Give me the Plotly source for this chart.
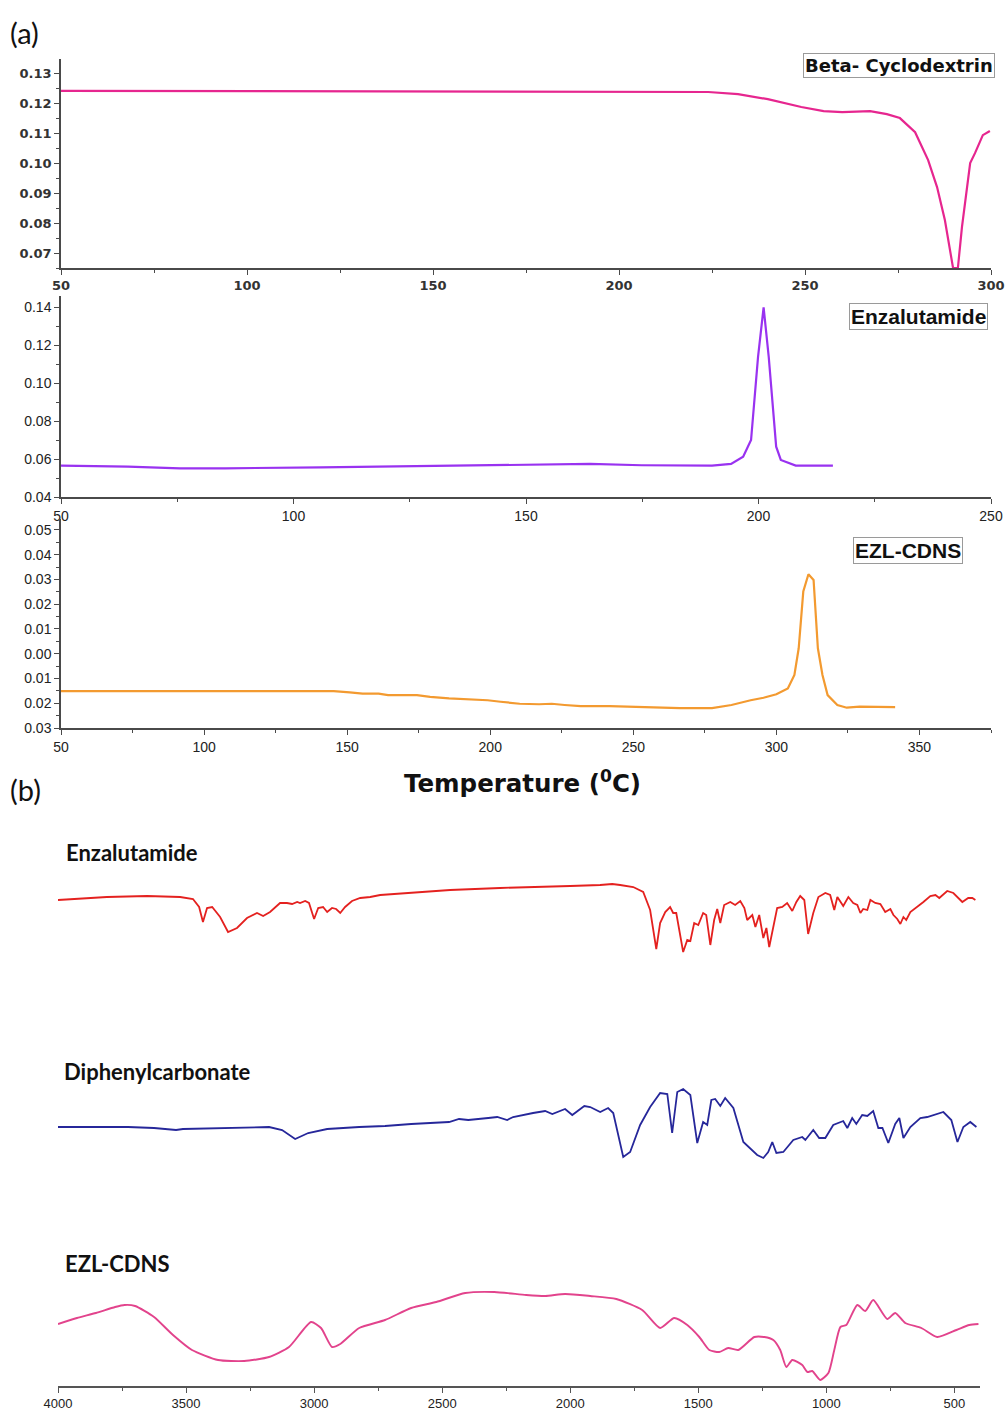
import plotly.graph_objects as go

W, H = 1006, 1413

# ---------------- DSC data (panel a) ----------------
bcd_temp = [50, 100, 150, 168, 200, 224, 232, 240, 249, 255, 260, 267.5, 272, 275.5,
            279.6, 283.1, 285.5, 287.6, 289.8, 291.1, 292.2, 294.4, 295.7, 297.8, 299.7]
bcd_heat = [0.1241, 0.1240, 0.1239, 0.1238, 0.1238, 0.1237, 0.1230, 0.1213, 0.1187, 0.1173,
            0.1170, 0.1173, 0.1163, 0.1150, 0.1103, 0.1010, 0.0920, 0.0810, 0.0650, 0.0650,
            0.0787, 0.1000, 0.1033, 0.1093, 0.1107]

enz_temp = [50, 64.4, 75.6, 85.3, 105.9, 133.4, 163.8, 174.9, 190.0, 194.1, 196.7, 198.4,
            199.9, 201.1, 202.2, 203.8, 204.8, 208.0, 216.0]
enz_heat = [0.0565, 0.0560, 0.0551, 0.0551, 0.0556, 0.0563, 0.0574, 0.0567, 0.0565, 0.0574,
            0.0612, 0.0700, 0.1138, 0.1398, 0.1138, 0.0665, 0.0595, 0.0565, 0.0565]

ezl_temp = [50, 96, 145.3, 150.9, 155.4, 161.0, 164.3, 174.4, 179.0, 185.6, 192.2, 199.1,
            203.6, 210.3, 217.1, 221.5, 226.0, 231.6, 241.7, 248.4, 261.8, 266.3, 277.5,
            284.3, 291.0, 295.5, 300.0, 304.0, 306.3, 307.8, 309.4, 311.2, 313.0, 314.5,
            316.1, 317.9, 321.3, 324.6, 329.1, 333.6, 341.5]
ezl_heat = [-0.0151, -0.0151, -0.0151, -0.0156, -0.0161, -0.0161, -0.0167, -0.0167, -0.0174,
            -0.0180, -0.0184, -0.0188, -0.0194, -0.0202, -0.0204, -0.0202, -0.0207, -0.0212,
            -0.0212, -0.0215, -0.0218, -0.0220, -0.0220, -0.0207, -0.0188, -0.0178, -0.0164,
            -0.0140, -0.0086, 0.0022, 0.0251, 0.0321, 0.0298, 0.0022, -0.0086, -0.0167,
            -0.0207, -0.0218, -0.0214, -0.0215, -0.0216]

bcd_ytick_vals = [0.07, 0.08, 0.09, 0.10, 0.11, 0.12, 0.13]
bcd_ytick_text = ["0.07", "0.08", "0.09", "0.10", "0.11", "0.12", "0.13"]
enz_ytick_vals = [0.04, 0.06, 0.08, 0.10, 0.12, 0.14]
enz_ytick_text = ["0.04", "0.06", "0.08", "0.10", "0.12", "0.14"]
ezl_ytick_vals = [0.05, 0.04, 0.03, 0.02, 0.01, 0.00, -0.01, -0.02, -0.03]
ezl_ytick_text = ["0.05", "0.04", "0.03", "0.02", "0.01", "0.00", "0.01", "0.02", "0.03"]

# ---------------- FTIR data (panel b), relative transmittance ----------------
ftir_enz_wn = [4000, 3809, 3652, 3523, 3473, 3449, 3434, 3418, 3398, 3367, 3336, 3301, 3262,
               3223, 3199, 3172, 3133, 3106, 3086, 3066, 3055, 3035, 3020, 3000, 2984, 2965,
               2949, 2930, 2914, 2898, 2879, 2852, 2820, 2781, 2742, 2469, 2274, 2078, 2000,
               1883, 1836, 1805, 1754, 1715, 1688, 1664, 1649, 1629, 1610, 1598, 1586, 1559,
               1543, 1531, 1516, 1500, 1481, 1469, 1453, 1438, 1426, 1414, 1399, 1375, 1356,
               1336, 1320, 1309, 1289, 1277, 1262, 1246, 1234, 1223, 1207, 1192, 1172, 1153,
               1133, 1117, 1102, 1086, 1071, 1051, 1031, 1004, 985, 969, 957, 934, 914, 895,
               879, 867, 856, 840, 828, 809, 789, 770, 750, 738, 723, 711, 699, 688, 672, 645,
               621, 594, 574, 559, 528, 504, 469, 446, 430, 418]
ftir_enz_t = [60, 63, 64, 63, 61, 53, 38, 52, 53, 43, 28, 32, 42, 47, 44, 48, 57, 57, 56, 58,
              57, 59, 57, 41, 52, 53, 48, 52, 51, 47, 53, 59, 62, 63, 65, 70, 72, 73, 74, 75,
              76, 75, 73, 68, 50, 11, 37, 48, 53, 47, 47, 8, 20, 19, 37, 35, 47, 45, 15, 40,
              51, 37, 55, 58, 55, 59, 52, 40, 45, 33, 45, 22, 32, 13, 35, 52, 53, 57, 49, 58,
              64, 60, 26, 47, 63, 67, 65, 50, 63, 54, 63, 57, 55, 47, 51, 50, 60, 57, 56, 48,
              51, 45, 41, 36, 43, 40, 48, 53, 58, 64, 65, 62, 69, 67, 58, 62, 62, 60]

ftir_dpc_wn = [4000, 3727, 3625, 3539, 3512, 3348, 3176, 3125, 3074, 3023, 2949, 2824, 2723,
               2621, 2473, 2434, 2398, 2320, 2285, 2246, 2223, 2145, 2098, 2070, 2020, 1992,
               1945, 1922, 1883, 1852, 1832, 1793, 1766, 1727, 1688, 1649, 1621, 1602, 1582,
               1559, 1531, 1504, 1481, 1465, 1449, 1434, 1414, 1395, 1363, 1324, 1270, 1246,
               1227, 1211, 1195, 1168, 1129, 1094, 1082, 1051, 1028, 1004, 973, 934, 918, 899,
               883, 860, 840, 817, 797, 781, 758, 731, 715, 699, 672, 633, 606, 543, 512, 488,
               465, 438, 414]
ftir_dpc_t = [43, 43, 42, 40, 41, 42, 43, 40, 31, 37, 41, 43, 44, 46, 48, 51, 50, 52, 53, 50,
              53, 57, 59, 56, 61, 55, 64, 63, 58, 62, 57, 13, 18, 45, 63, 77, 76, 37, 78, 81,
              75, 27, 48, 45, 70, 71, 64, 72, 62, 28, 15, 12, 18, 28, 17, 18, 30, 33, 30, 40,
              32, 32, 45, 49, 42, 52, 46, 55, 54, 59, 42, 42, 27, 46, 52, 32, 43, 52, 53, 58,
              50, 28, 43, 48, 43]

ftir_ezl_wn = [4000, 3926, 3852, 3777, 3740, 3699, 3625, 3551, 3477, 3375, 3273, 3176, 3098,
               3012, 2973, 2930, 2898, 2824, 2723, 2621, 2523, 2410, 2297, 2172, 2098, 2020,
               1922, 1820, 1719, 1649, 1594, 1543, 1496, 1457, 1418, 1383, 1344, 1281, 1242,
               1207, 1180, 1156, 1133, 1094, 1074, 1055, 1024, 992, 969, 945, 922, 879, 848,
               817, 762, 731, 692, 629, 567, 492, 442, 406]
ftir_ezl_t = [66, 72, 77, 83, 85, 84, 73, 55, 40, 30, 29, 33, 43, 68, 62, 43, 46, 62, 70, 82,
              88, 97, 98, 95, 94, 96, 94, 91, 80, 62, 72, 65, 53, 40, 38, 42, 40, 53, 53, 50,
              40, 23, 30, 25, 18, 19, 10, 17, 40, 63, 65, 85, 79, 90, 71, 77, 67, 62, 53, 60,
              65, 66]

ftir_ticks = [4000, 3500, 3000, 2500, 2000, 1500, 1000, 500]

# ---------------- helpers ----------------
def px(x):
    return x / W

def py(y):
    return 1 - y / H

AX = "#4a4a4a"
fig = go.Figure()

fig.add_trace(go.Scatter(x=bcd_temp, y=bcd_heat, mode="lines", xaxis="x", yaxis="y",
                         line=dict(color="#e6268f", width=2.2), showlegend=False))
fig.add_trace(go.Scatter(x=enz_temp, y=enz_heat, mode="lines", xaxis="x2", yaxis="y2",
                         line=dict(color="#9932f0", width=2.2), showlegend=False))
fig.add_trace(go.Scatter(x=ezl_temp, y=ezl_heat, mode="lines", xaxis="x3", yaxis="y3",
                         line=dict(color="#f39a30", width=2.2), showlegend=False))

fig.add_trace(go.Scatter(x=ftir_enz_wn, y=ftir_enz_t, mode="lines", xaxis="x4", yaxis="y4",
                         line=dict(color="#e4211f", width=1.8), showlegend=False))
fig.add_trace(go.Scatter(x=ftir_dpc_wn, y=ftir_dpc_t, mode="lines", xaxis="x4", yaxis="y5",
                         line=dict(color="#26279a", width=1.8), showlegend=False))
fig.add_trace(go.Scatter(x=ftir_ezl_wn, y=ftir_ezl_t, mode="lines", xaxis="x4", yaxis="y6",
                         line=dict(color="#e2438c", width=1.9, shape="spline", smoothing=0.6),
                         showlegend=False))

xdom = [px(61), px(991)]
geo_font = dict(family="DejaVu Sans", size=13, color="#333", weight="bold")
nar_font = dict(family="Liberation Sans Narrow, Liberation Sans, Arial", size=14, color="#222")

def xax(rng, dtick, anchor, font, minor_dt):
    return dict(domain=xdom, range=rng, anchor=anchor, showline=True, linecolor=AX, linewidth=1.5,
                ticks="outside", ticklen=5, tickwidth=1.3, tickcolor=AX, dtick=dtick, tick0=50,
                showgrid=False, zeroline=False, tickfont=font, automargin=False,
                minor=dict(ticks="outside", ticklen=3, tickcolor=AX, dtick=minor_dt, tick0=50))

def yax(dom, rng, anchor, font, **kw):
    d = dict(domain=dom, range=rng, anchor=anchor, showline=True, linecolor=AX, linewidth=1.5,
             ticks="outside", ticklen=5, tickwidth=1.3, tickcolor=AX, showgrid=False,
             zeroline=False, tickfont=font, automargin=False)
    d.update(kw)
    return d

layout = dict(
    width=W, height=H, margin=dict(l=0, r=0, t=0, b=0, autoexpand=False),
    paper_bgcolor="white", plot_bgcolor="white",
    xaxis=xax([50, 300], 50, "y", geo_font, 25),
    yaxis=yax([py(268), py(59)], [0.065, 0.1347], "x", geo_font,
              tickvals=bcd_ytick_vals, ticktext=bcd_ytick_text,
              minor=dict(ticks="outside", ticklen=3, tickcolor=AX, dtick=0.005, tick0=0.065)),
    xaxis2=xax([50, 250], 50, "y2", nar_font, 25),
    yaxis2=yax([py(497), py(296)], [0.04, 0.1458], "x2", nar_font,
               tickvals=enz_ytick_vals, ticktext=enz_ytick_text,
               minor=dict(ticks="outside", ticklen=3, tickcolor=AX, dtick=0.01, tick0=0.04)),
    xaxis3=xax([50, 375], 50, "y3", nar_font, 25),
    yaxis3=yax([py(728), py(519)], [-0.03, 0.0544], "x3", nar_font,
               tickvals=ezl_ytick_vals, ticktext=ezl_ytick_text,
               minor=dict(ticks="outside", ticklen=3, tickcolor=AX, dtick=0.005, tick0=-0.03)),
    xaxis4=dict(domain=[px(58), px(980)], range=[4000, 400], anchor="free", position=py(1387),
                showline=True, linecolor="#555", linewidth=1.5, ticks="outside", ticklen=5,
                tickcolor="#555", tickvals=ftir_ticks, showgrid=False, zeroline=False,
                automargin=False,
                tickfont=dict(family="Liberation Sans Narrow, Liberation Sans, Arial", size=13,
                              color="#222"),
                minor=dict(ticks="outside", ticklen=3, tickcolor="#555", dtick=250, tick0=4000)),
    yaxis4=dict(domain=[py(960), py(870)], range=[0, 90], anchor="x4", visible=False,
                automargin=False),
    yaxis5=dict(domain=[py(1170), py(1080)], range=[0, 90], anchor="x4", visible=False,
                automargin=False),
    yaxis6=dict(domain=[py(1390), py(1285)], range=[0, 105], anchor="x4", visible=False,
                automargin=False),
)
fig.update_layout(**layout)

ann = []
def label(text, x, y, font, **kw):
    d = dict(text=text, x=px(x), y=py(y), xref="paper", yref="paper", showarrow=False,
             font=font, xanchor="left", yanchor="middle")
    d.update(kw)
    ann.append(d)

label("(a)", 8, 33, dict(family="Lato, Liberation Sans", size=29, color="#111"))
label("(b)", 8, 790, dict(family="Lato, Liberation Sans", size=29, color="#111"))
label("Temperature (<sup>0</sup>C)", 522, 782,
      dict(family="DejaVu Sans", size=24.5, color="#111", weight="bold"), xanchor="center")

box = dict(bordercolor="#9a9a9a", borderwidth=1, borderpad=1, bgcolor="white")
label("Beta- Cyclodextrin", 995, 66,
      dict(family="DejaVu Sans", size=18, color="#111", weight="bold"), xanchor="right", **box)
label("Enzalutamide", 988, 316,
      dict(family="Liberation Sans Narrow, Liberation Sans", size=21, color="#111", weight="bold"),
      xanchor="right", **box)
label("EZL-CDNS", 963, 550,
      dict(family="Liberation Sans Narrow, Liberation Sans", size=21, color="#111", weight="bold"),
      xanchor="right", **box)

ftir_font = dict(family="Lato, Open Sans", size=22, color="#111", weight="bold")
label("Enzalutamide", 64, 852, ftir_font)
label("Diphenylcarbonate", 62, 1071, ftir_font)
label("EZL-CDNS", 63, 1263, ftir_font)

fig.update_layout(annotations=ann)
fig.write_html(
    "out.html",
    config={"displayModeBar": False},
    post_script="document.body.style.margin='0px';document.body.style.overflow='hidden';",
)
